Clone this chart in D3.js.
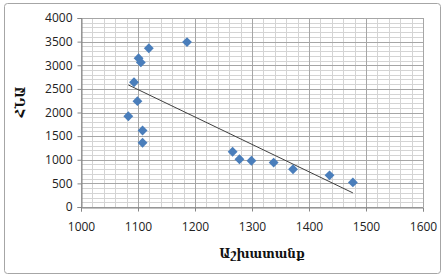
<!DOCTYPE html>
<html lang="hy">
<head>
    <meta charset="UTF-8">
    <title>ՀՆԱ և Աշխատանք</title>
    <script src="https://d3js.org/d3.v7.min.js"></script>
    <style>
        body { margin: 0; background: #fff; }
        svg { display: block; }
        .tick text { font-family: "Open Sans", "Liberation Sans", sans-serif; font-size: 12px; fill: #222; }
        .title { font-family: "DejaVu Serif", "DejaVu Sans", serif; font-size: 12px; font-weight: bold; fill: #111; }
    </style>
</head>
<body>
<div id="chart"></div>
<script>
    // Աշխատանք (x) and ՀՆԱ (y)
    const labor = [1083, 1093, 1099, 1101, 1105, 1119, 1108, 1108, 1186, 1266, 1278, 1299, 1338, 1372, 1436, 1477];
    const gdp   = [1920, 2640, 2240, 3150, 3060, 3360, 1620, 1360, 3490, 1170, 1010, 980, 940, 800, 670, 520];
    const xTicks = [1000, 1100, 1200, 1300, 1400, 1500, 1600];
    const yTicks = [0, 500, 1000, 1500, 2000, 2500, 3000, 3500, 4000];

    const W = 445, H = 276;
    const pLeft = 81, pRight = 423, pTop = 18, pBottom = 207;

    const svg = d3.select("#chart").append("svg")
        .attr("width", W).attr("height", H);

    svg.append("rect")
        .attr("x", 4.5).attr("y", 3.5)
        .attr("width", 436).attr("height", 270)
        .attr("rx", 3)
        .attr("fill", "#fff").attr("stroke", "#a6a6a6");

    const x = d3.scaleLinear().domain([1000, 1600]).range([pLeft, pRight]);
    const y = d3.scaleLinear().domain([0, 4000]).range([pBottom, pTop]);

    // minor grid
    const g = svg.append("g");
    g.selectAll(".vminor").data(d3.range(1000, 1601, 20)).enter().append("line")
        .attr("x1", d => Math.round(x(d)) + 0.5).attr("x2", d => Math.round(x(d)) + 0.5)
        .attr("y1", pTop).attr("y2", pBottom)
        .attr("stroke", "#d4d4d4");
    g.selectAll(".hminor").data(d3.range(0, 4001, 100)).enter().append("line")
        .attr("y1", d => Math.round(y(d)) + 0.5).attr("y2", d => Math.round(y(d)) + 0.5)
        .attr("x1", pLeft).attr("x2", pRight)
        .attr("stroke", "#d4d4d4");
    // major grid
    g.selectAll(".vmajor").data(xTicks).enter().append("line")
        .attr("x1", d => Math.round(x(d)) + 0.5).attr("x2", d => Math.round(x(d)) + 0.5)
        .attr("y1", pTop).attr("y2", pBottom)
        .attr("stroke", "#a6a6a6");
    g.selectAll(".hmajor").data(yTicks).enter().append("line")
        .attr("y1", d => Math.round(y(d)) + 0.5).attr("y2", d => Math.round(y(d)) + 0.5)
        .attr("x1", pLeft).attr("x2", pRight)
        .attr("stroke", "#a6a6a6");

    const xAxis = svg.append("g")
        .attr("transform", `translate(0,${Math.round(pBottom) + 0.5})`)
        .call(d3.axisBottom(x).tickValues(xTicks).tickFormat(d3.format("d")).tickSize(4).tickPadding(11));
    const yAxis = svg.append("g")
        .attr("transform", `translate(${pLeft + 0.5},0)`)
        .call(d3.axisLeft(y).tickValues(yTicks).tickFormat(d3.format("d")).tickSize(4).tickPadding(5));
    [xAxis, yAxis].forEach(a => {
        a.select(".domain").attr("stroke", "#868686");
        a.selectAll(".tick line").attr("stroke", "#868686");
    });

    // linear trendline (least squares)
    const mx = d3.mean(labor), my = d3.mean(gdp);
    const slope = d3.sum(labor, (v, i) => (v - mx) * (gdp[i] - my)) / d3.sum(labor, v => (v - mx) * (v - mx));
    const icpt = my - slope * mx;
    const [x0, x1] = d3.extent(labor);
    svg.append("line")
        .attr("x1", x(x0)).attr("y1", y(icpt + slope * x0))
        .attr("x2", x(x1)).attr("y2", y(icpt + slope * x1))
        .attr("stroke", "#404040").attr("stroke-width", 1);

    const pts = labor.map((v, i) => [v, gdp[i]]);
    svg.selectAll(".pt").data(pts).enter().append("path")
        .attr("d", d3.symbol().type(d3.symbolDiamond2).size(62))
        .attr("transform", d => `translate(${x(d[0])},${y(d[1])})`)
        .attr("fill", "#4a7ebb");

    svg.append("text").attr("class", "title")
        .attr("x", 262).attr("y", 258).attr("text-anchor", "middle")
        .text("Աշխատանք");
    svg.append("text").attr("class", "title")
        .attr("transform", "translate(25,102) rotate(-90)")
        .attr("text-anchor", "middle")
        .text("ՀՆԱ");
</script>
</body>
</html>
